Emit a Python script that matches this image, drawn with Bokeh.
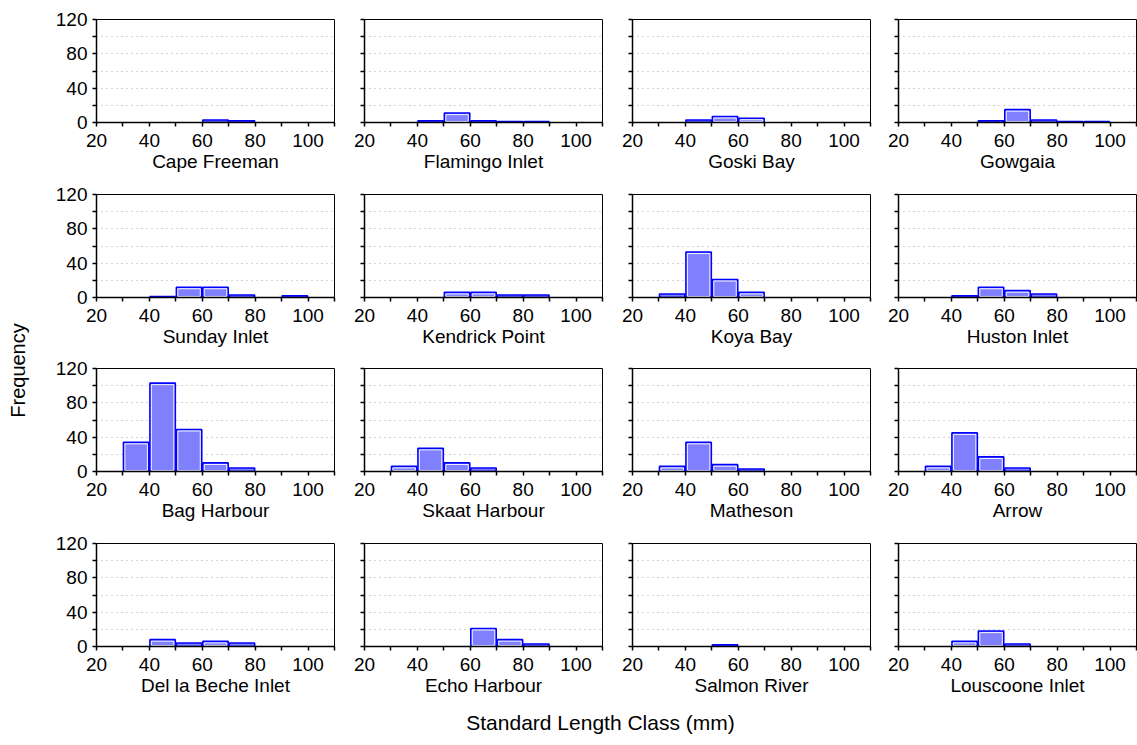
import math
from bokeh.plotting import figure
from bokeh.layouts import row, column
from bokeh.models import FixedTicker, Range1d, Label, ColumnDataSource
from bokeh.embed import file_html
from bokeh.resources import INLINE

FONT = "Liberation Sans"

# ---------------- data ----------------
sites = ["Cape Freeman", "Flamingo Inlet", "Goski Bay", "Gowgaia",
         "Sunday Inlet", "Kendrick Point", "Koya Bay", "Huston Inlet",
         "Bag Harbour", "Skaat Harbour", "Matheson", "Arrow",
         "Del la Beche Inlet", "Echo Harbour", "Salmon River", "Louscoone Inlet"]

bin_starts = [30, 40, 50, 60, 70, 80, 90]
bin_width = 10

cape_freeman = [0, 0, 0, 3, 2, 0, 0]
flamingo_inlet = [0, 2, 11, 2, 1, 1, 0]
goski_bay = [0, 3, 7, 5, 0, 0, 0]
gowgaia = [0, 0, 2, 15, 3, 1, 1]
sunday_inlet = [0, 1, 12, 12, 3, 0, 2]
kendrick_point = [0, 0, 6, 6, 3, 3, 0]
koya_bay = [4, 53, 21, 6, 0, 0, 0]
huston_inlet = [0, 2, 12, 8, 4, 0, 0]
bag_harbour = [34, 103, 49, 10, 4, 0, 0]
skaat_harbour = [6, 27, 10, 4, 0, 0, 0]
matheson = [6, 34, 8, 3, 0, 0, 0]
arrow = [6, 45, 17, 4, 0, 0, 0]
del_la_beche_inlet = [0, 8, 4, 6, 4, 0, 0]
echo_harbour = [0, 0, 0, 21, 8, 3, 0]
salmon_river = [0, 0, 2, 0, 0, 0, 0]
louscoone_inlet = [0, 6, 18, 3, 0, 0, 0]

counts = [cape_freeman, flamingo_inlet, goski_bay, gowgaia,
          sunday_inlet, kendrick_point, koya_bay, huston_inlet,
          bag_harbour, skaat_harbour, matheson, arrow,
          del_la_beche_inlet, echo_harbour, salmon_river, louscoone_inlet]

x_major = [20, 40, 60, 80, 100]
x_minor = [30, 50, 70, 90, 110]
y_major = [0, 40, 80, 120]
y_minor = [20, 60, 100]
y_grid = [20, 40, 60, 80, 100]

x_title = "Standard Length Class (mm)"
y_title = "Frequency"

# ---------------- layout ----------------
frame_w, frame_h = 238, 103
left_b = [56, 26, 26, 24]
right_b = [4, 4, 4, 1]
top_b = [19, 14, 13, 14]
bottom_b = 58
TICK_FS = "19px"
TITLE_FS = "19px"


def panel(idx, r, c):
    p = figure(frame_width=frame_w, frame_height=frame_h,
               min_border_left=left_b[c], min_border_right=right_b[c],
               min_border_top=top_b[r], min_border_bottom=bottom_b,
               x_range=Range1d(20, 110), y_range=Range1d(0, 120),
               toolbar_location=None, tools="", output_backend="svg")
    p.outline_line_color = "black"
    p.outline_line_width = 1
    p.background_fill_color = "white"
    p.border_fill_color = "white"

    p.xgrid.visible = False
    p.ygrid.ticker = FixedTicker(ticks=y_grid)
    p.ygrid.grid_line_color = "#A8A8A8"
    p.ygrid.grid_line_dash = "1 4"
    p.ygrid.grid_line_width = 1.2

    for ax in (p.xaxis[0], p.yaxis[0]):
        ax.axis_line_color = "black"
        ax.axis_line_width = 1.5
        ax.major_tick_line_color = "black"
        ax.minor_tick_line_color = "black"
        ax.major_tick_line_width = 1.5
        ax.minor_tick_line_width = 1.5
        ax.major_tick_in = 0
        ax.major_tick_out = 4
        ax.minor_tick_in = 0
        ax.minor_tick_out = 4
        ax.major_label_text_font = FONT
        ax.major_label_text_font_size = TICK_FS
        ax.major_label_text_color = "black"

    p.xaxis.ticker = FixedTicker(ticks=x_major, minor_ticks=x_minor)
    p.yaxis.ticker = FixedTicker(ticks=y_major, minor_ticks=y_minor)
    p.xaxis.major_label_standoff = 7
    p.yaxis.major_label_standoff = 5
    if c != 0:
        p.yaxis.major_label_overrides = {t: "" for t in y_major}

    p.xaxis.axis_label = sites[idx]
    p.xaxis.axis_label_text_font = FONT
    p.xaxis.axis_label_text_font_size = TITLE_FS
    p.xaxis.axis_label_text_font_style = "normal"
    p.xaxis.axis_label_text_color = "black"
    p.xaxis.axis_label_standoff = 1

    cnt = counts[idx]
    lefts = [b for b, v in zip(bin_starts, cnt) if v > 0]
    vals = [v for v in cnt if v > 0]
    src = ColumnDataSource(dict(
        left=[b + 0.2 for b in lefts],
        right=[b + bin_width - 0.2 for b in lefts],
        top=vals,
        bottom=[0] * len(vals)))
    p.quad(left="left", right="right", top="top", bottom="bottom", source=src,
           fill_color="#8080FF", line_color="#0000FF", line_width=1.6)

    ilefts = [b for b, v in zip(lefts, vals) if v >= 5]
    ivals = [v for v in vals if v >= 5]
    isrc = ColumnDataSource(dict(
        left=[b + 0.75 for b in ilefts],
        right=[b + bin_width - 0.75 for b in ilefts],
        top=[v - 1.8 for v in ivals],
        bottom=[1.2] * len(ivals)))
    p.quad(left="left", right="right", top="top", bottom="bottom", source=isrc,
           fill_color=None, line_color="white", line_width=1, line_alpha=0.9)
    return p


rows = []
for r in range(4):
    figs = [panel(r * 4 + c, r, c) for c in range(4)]
    rows.append(row(*figs, spacing=0))

grid_h = sum(top_b) + 4 * (frame_h + bottom_b)

# Y title figure
fy = figure(width=40, height=grid_h, x_range=Range1d(0, 40), y_range=Range1d(0, grid_h),
            x_axis_location=None, y_axis_location=None, min_border=0,
            toolbar_location=None, tools="", output_backend="svg")
fy.outline_line_color = None
fy.grid.visible = False
fy.add_layout(Label(x=17, y=grid_h - 370, text=y_title, angle=math.pi / 2,
                    text_align="center", text_baseline="middle",
                    text_font=FONT, text_font_size="20px", text_color="black"))

# X title figure
total_w = 1137
bottom_h = 745 - grid_h
fx = figure(width=total_w - 40, height=bottom_h, x_range=Range1d(0, total_w - 40),
            y_range=Range1d(0, bottom_h),
            x_axis_location=None, y_axis_location=None, min_border=0,
            toolbar_location=None, tools="", output_backend="svg")
fx.outline_line_color = None
fx.grid.visible = False
fx.add_layout(Label(x=600 - 40, y=bottom_h - (722 - grid_h), text=x_title,
                    text_align="center", text_baseline="middle",
                    text_font=FONT, text_font_size="21px", text_color="black"))

layout = row(fy, column(*rows, fx, spacing=0), spacing=0)

open("out.html", "w").write(file_html(layout, INLINE))
